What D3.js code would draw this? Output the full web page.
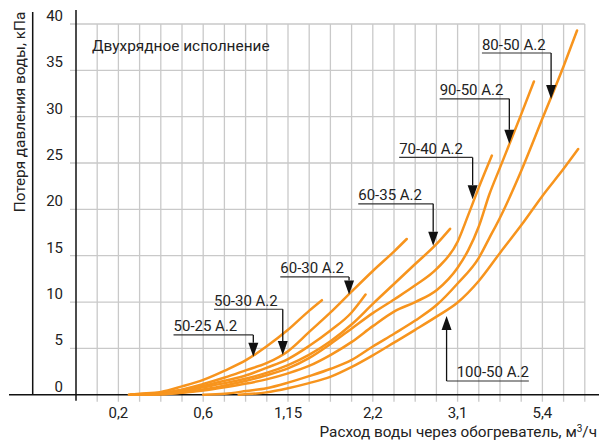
<!DOCTYPE html>
<html>
<head>
<meta charset="utf-8">
<script src="https://cdn.jsdelivr.net/npm/d3@7"></script>
<style>
  body { margin: 0; background: #fff; }
  text { font-family: Roboto, "DejaVu Sans", sans-serif; fill: #222; }
</style>
</head>
<body>
<svg></svg>
<script>
// flow values (m3/h) and pressure loss (kPa)
var q5025 = [0.25, 0.3, 0.4, 0.5, 0.6, 0.74, 0.88, 1.01, 1.15, 1.41, 1.57];
var p5025 = [0, 0.1, 0.3, 0.9, 1.6, 2.6, 3.75, 5.2, 7.0, 9.05, 10.2];
var q5030 = [0.26, 0.4, 0.5, 0.6, 0.74, 0.88, 1.01, 1.15, 1.41, 1.68, 1.94, 2.11];
var p5030 = [0, 0.15, 0.5, 0.95, 1.5, 2.1, 2.9, 3.85, 5.25, 6.95, 8.9, 10.8];
var q6030 = [0.25, 0.4, 0.5, 0.6, 0.74, 0.88, 1.01, 1.15, 1.41, 1.68, 1.94, 2.2, 2.43, 2.56];
var p6030 = [0, 0.2, 0.55, 1.15, 1.85, 2.65, 3.4, 4.7, 6.75, 8.9, 11.15, 13.35, 15.5, 16.8];
var q6035 = [0.26, 0.4, 0.5, 0.6, 0.74, 0.88, 1.01, 1.15, 1.41, 1.68, 1.94, 2.2, 2.43, 2.65, 2.88, 3.02];
var p6035 = [0, 0.1, 0.35, 0.8, 1.25, 1.75, 2.35, 3.2, 4.3, 5.8, 7.6, 9.8, 12.0, 14.1, 16.3, 17.9];
var q7040 = [0.26, 0.4, 0.5, 0.6, 0.74, 0.88, 1.01, 1.15, 1.41, 1.68, 1.94, 2.2, 2.43, 2.65, 2.88, 3.1, 3.39, 3.68, 4.03];
var p7040 = [0, 0.05, 0.25, 0.55, 1.0, 1.5, 2.1, 2.85, 3.95, 5.5, 7.15, 8.8, 10.3, 11.8, 13.6, 16.5, 19.4, 22.4, 25.8];
var q9050 = [0.28, 0.4, 0.5, 0.6, 0.74, 0.88, 1.01, 1.15, 1.41, 1.68, 1.94, 2.2, 2.43, 2.65, 2.88, 3.1, 3.39, 3.68, 3.96, 4.25, 4.54, 4.83, 5.17];
var p9050 = [0, 0.05, 0.2, 0.45, 0.8, 1.2, 1.65, 2.3, 3.1, 4.3, 5.7, 7.4, 9.0, 10.0, 11.3, 13.7, 15.6, 18.2, 21.6, 24.5, 27.4, 30.3, 33.8];
var q8050 = [0.6, 0.74, 0.88, 1.01, 1.15, 1.41, 1.68, 1.94, 2.2, 2.43, 2.65, 2.88, 3.1, 3.68, 3.96, 4.25, 4.83, 5.4, 5.98, 6.34];
var p8050 = [0, 0.1, 0.4, 0.7, 1.3, 2.0, 2.8, 3.75, 5.2, 6.6, 8.0, 9.7, 12.0, 14.8, 16.9, 19.1, 24.2, 29.8, 35.5, 39.3];
var q10050 = [0.83, 1.01, 1.15, 1.41, 1.68, 1.94, 2.2, 2.43, 2.65, 2.88, 3.1, 3.68, 4.25, 4.83, 5.4, 5.98, 6.37];
var p10050 = [0, 0.25, 0.7, 1.25, 1.95, 3.0, 4.25, 5.65, 7.0, 8.45, 9.95, 12.3, 15.3, 18.3, 21.45, 24.4, 26.5];

var curves = [
    [q5025, p5025], [q5030, p5030], [q6030, p6030], [q6035, p6035],
    [q7040, p7040], [q9050, p9050], [q8050, p8050], [q10050, p10050]
];

// labels with leader arrows
var labelNames = ["50-25 A.2", "50-30 A.2", "60-30 A.2", "60-35 A.2", "70-40 A.2", "90-50 A.2", "80-50 A.2", "100-50 A.2"];
var labelQ = [0.46, 0.67, 1.10, 2.02, 2.48, 2.91, 3.76, 3.09];
var labelP = [6.45, 9.22, 12.71, 20.6, 25.6, 31.93, 36.87, 1.48];
var tipQ = [0.925, 1.116, 1.906, 2.841, 3.508, 4.503, 5.636, 2.983];
var tipP = [4.1, 4.29, 10.82, 16.06, 21.1, 27.07, 31.9, 8.5];

var xTickValues = [0.2, 0.6, 1.15, 2.2, 3.1, 5.4];
var xTickLabels = ["0,2", "0,6", "1,15", "2,2", "3,1", "5,4"];
var yTickValues = [0, 5, 10, 15, 20, 25, 30, 35, 40];

var width = 599;
var height = 444;

update();

function update() {
    var svg = d3.select('svg')
        .attr('width', width)
        .attr('height', height)
        .attr('viewBox', '0 0 ' + width + ' ' + height);

    var left = 76, right = 584.8, top = 24, bottom = 394.7;

    // grid columns, the flow axis is stretched unevenly between its labels
    var col = d3.scaleLinear().domain([0, 24]).range([left, right]);
    var x = d3.scaleLinear()
        .domain([0, 0.2, 0.6, 1.15, 2.2, 3.1, 5.4])
        .range([0, 2, 6, 10, 14, 18, 22].map(col));
    var y = d3.scaleLinear().domain([0, 40]).range([bottom, top]);

    var g = svg.append('g');

    // vertical grid
    g.selectAll('line.vgrid')
        .data(d3.range(1, 25))
        .enter()
        .append('line')
        .attr('class', 'vgrid')
        .attr('x1', function (d) { return col(d); })
        .attr('x2', function (d) { return col(d); })
        .attr('y1', top)
        .attr('y2', bottom + 7)
        .attr('stroke', '#c9c9c9')
        .attr('stroke-width', 1.3);

    // horizontal grid
    g.selectAll('line.hgrid')
        .data(yTickValues.slice(1))
        .enter()
        .append('line')
        .attr('class', 'hgrid')
        .attr('x1', left - 6)
        .attr('x2', right)
        .attr('y1', function (d) { return y(d); })
        .attr('y2', function (d) { return y(d); })
        .attr('stroke', '#c9c9c9')
        .attr('stroke-width', 1.3);

    // axes lines
    g.append('line')
        .attr('x1', 9).attr('x2', width)
        .attr('y1', bottom).attr('y2', bottom)
        .attr('stroke', '#111').attr('stroke-width', 1.5);
    g.append('line')
        .attr('x1', left).attr('x2', left)
        .attr('y1', 10).attr('y2', bottom + 6)
        .attr('stroke', '#111').attr('stroke-width', 1.5);
    g.append('line')
        .attr('x1', 32.7).attr('x2', 32.7)
        .attr('y1', 12).attr('y2', bottom)
        .attr('stroke', '#111').attr('stroke-width', 1.5);

    // tick labels
    g.selectAll('text.ytick')
        .data(yTickValues)
        .enter()
        .append('text')
        .attr('class', 'ytick')
        .attr('x', 63)
        .attr('y', function (d) { return y(d) - 3; })
        .attr('text-anchor', 'end')
        .style('font-size', '15px')
        .text(function (d) { return d; });

    g.selectAll('text.xtick')
        .data(xTickValues)
        .enter()
        .append('text')
        .attr('class', 'xtick')
        .attr('x', function (d) { return x(d); })
        .attr('y', 418)
        .attr('text-anchor', 'middle')
        .style('font-size', '15px')
        .text(function (d, i) { return xTickLabels[i]; });

    // titles
    g.append('text')
        .attr('transform', 'translate(24.5,112) rotate(-90)')
        .attr('text-anchor', 'middle')
        .style('font-size', '15.3px')
        .text('Потеря давления воды, кПа');

    g.append('text')
        .attr('x', 597)
        .attr('y', 437)
        .attr('text-anchor', 'end')
        .style('font-size', '15.3px')
        .html('Расход воды через обогреватель, м<tspan dy="-5" font-size="10">3</tspan><tspan dy="5">/ч</tspan>');

    g.append('text')
        .attr('x', 92)
        .attr('y', 50.5)
        .style('font-size', '15.4px')
        .text('Двухрядное исполнение');

    // curves
    var line = d3.line()
        .x(function (d) { return x(d[0]); })
        .y(function (d) { return y(d[1]); })
        .curve(d3.curveMonotoneX);

    g.selectAll('path.curve')
        .data(curves)
        .enter()
        .append('path')
        .attr('class', 'curve')
        .attr('fill', 'none')
        .attr('stroke', '#f7941d')
        .attr('stroke-width', 2.5)
        .attr('stroke-linecap', 'round')
        .attr('d', function (d) {
            return line(d[0].map(function (q, i) { return [q, d[1][i]]; }));
        });

    // labels with arrows
    labelNames.forEach(function (name, i) {
        var lx = x(labelQ[i]);
        var ly = y(labelP[i]);
        var tx = x(tipQ[i]);
        var ty = y(tipP[i]);

        var t = g.append('text')
            .attr('x', lx)
            .attr('y', ly - 3.5)
            .style('font-size', '15px')
            .text(name);
        var tEnd = lx + t.node().getComputedTextLength();

        g.append('line')
            .attr('x1', Math.min(lx, tx)).attr('x2', Math.max(tEnd, tx))
            .attr('y1', ly).attr('y2', ly)
            .attr('stroke', '#333').attr('stroke-width', 1.2);

        var dir = ty > ly ? 1 : -1;
        var ah = 14, aw = 5;
        g.append('line')
            .attr('x1', tx).attr('x2', tx)
            .attr('y1', ly).attr('y2', ty - dir * ah)
            .attr('stroke', '#111').attr('stroke-width', 1.3);
        g.append('path')
            .attr('d', 'M' + tx + ',' + ty +
                'L' + (tx - aw) + ',' + (ty - dir * ah) +
                'L' + (tx + aw) + ',' + (ty - dir * ah) + 'Z')
            .attr('fill', '#111');
    });
}
</script>
</body>
</html>
